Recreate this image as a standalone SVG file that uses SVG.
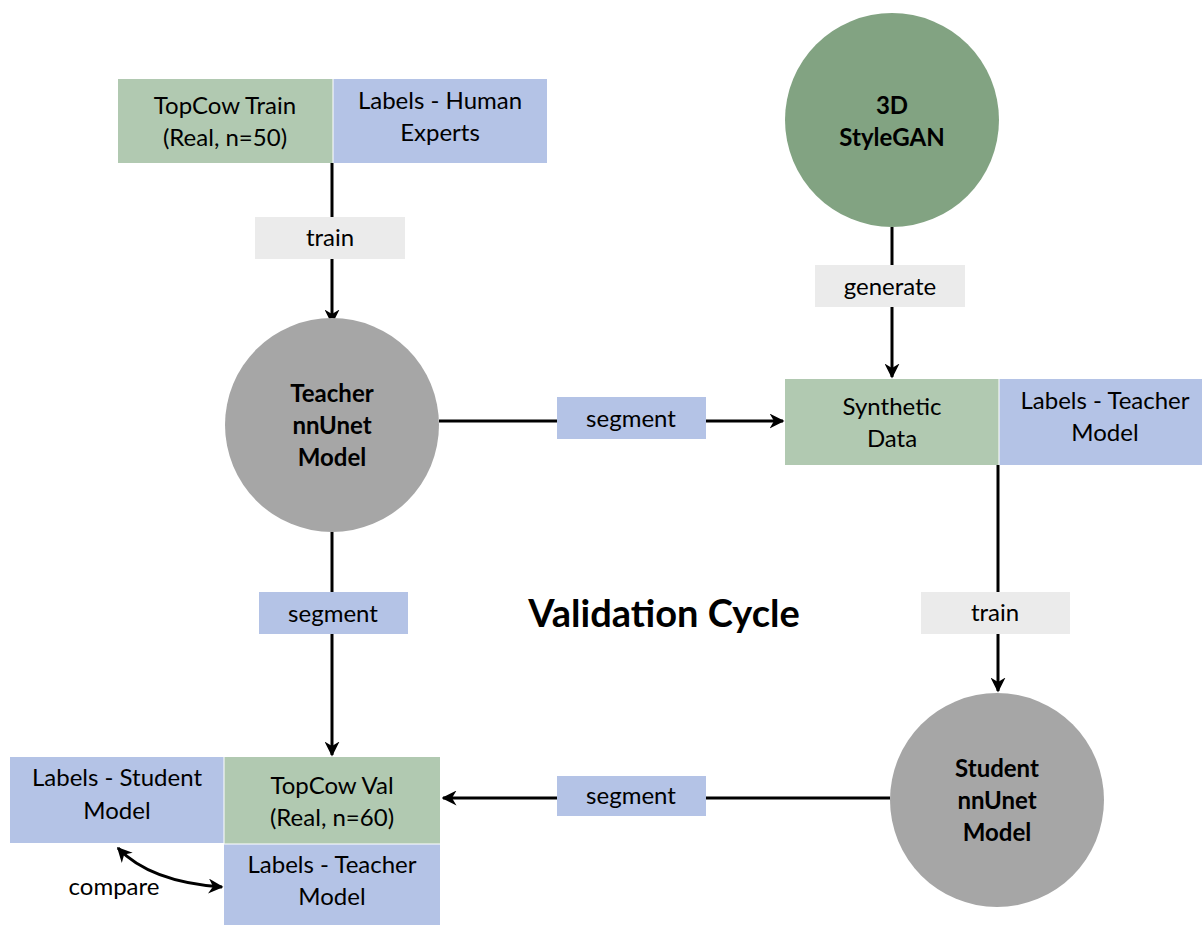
<svg xmlns="http://www.w3.org/2000/svg" width="1202" height="925" viewBox="0 0 1202 925">
  <style>
    .green { fill: #b1c9b1; }
    .blue { fill: #b4c3e6; }
    .tag { fill: #ebebeb; }
    .model { fill: #a6a6a6; }
    .gan { fill: #82a382; }
    .sep { stroke: #ffffff; stroke-width: 1; }
    text { font-family: Lato, "Open Sans", "Liberation Sans", sans-serif; font-size: 24px; fill: #000; text-anchor: middle; }
    .bold { font-weight: bold; }
    .title { font-size: 38px; font-weight: bold; }
    .edge { stroke: #000; stroke-width: 3; fill: none; }
  </style>
  <defs>
    <marker id="arrow" viewBox="0 0 10 10" refX="9" refY="5" markerWidth="5" markerHeight="5" orient="auto-start-reverse" markerUnits="strokeWidth">
      <path d="M0,0 L10,5 L0,10 L3,5 Z" fill="#000"/>
    </marker>
  </defs>
  <rect width="1202" height="925" fill="#ffffff"/>

  <!-- connectors -->
  <g id="connectors">
    <line class="edge" x1="332" y1="163" x2="332" y2="323" marker-end="url(#arrow)"/>
    <line class="edge" x1="892" y1="227" x2="892" y2="377" marker-end="url(#arrow)"/>
    <line class="edge" x1="439" y1="421" x2="783" y2="421" marker-end="url(#arrow)"/>
    <line class="edge" x1="332" y1="532" x2="332" y2="755" marker-end="url(#arrow)"/>
    <line class="edge" x1="998" y1="465" x2="998" y2="691" marker-end="url(#arrow)"/>
    <line class="edge" x1="890" y1="798" x2="443" y2="798" marker-end="url(#arrow)"/>
    <path class="edge" d="M118,848 Q150,882 222,887" marker-start="url(#arrow)" marker-end="url(#arrow)"/>
  </g>

  <!-- edge labels -->
  <g id="label-train-teacher">
    <rect class="tag" x="255" y="217" width="150" height="42"/>
    <text x="330" y="246">train</text>
  </g>
  <g id="label-generate">
    <rect class="tag" x="815" y="265" width="150" height="42"/>
    <text x="890" y="295">generate</text>
  </g>
  <g id="label-segment-synthetic">
    <rect class="blue" x="557" y="397" width="149" height="42"/>
    <text x="631" y="427">segment</text>
  </g>
  <g id="label-segment-val">
    <rect class="blue" x="259" y="592" width="149" height="42"/>
    <text x="333" y="622">segment</text>
  </g>
  <g id="label-train-student">
    <rect class="tag" x="921" y="592" width="149" height="42"/>
    <text x="995" y="621">train</text>
  </g>
  <g id="label-segment-student">
    <rect class="blue" x="557" y="776" width="149" height="40"/>
    <text x="631" y="804">segment</text>
  </g>

  <!-- nodes -->
  <g id="topcow-train">
    <rect class="green" x="118" y="79" width="215" height="84"/>
    <text x="225" y="114">TopCow Train</text>
    <text x="225" y="146">(Real, n=50)</text>
  </g>
  <g id="labels-human">
    <rect class="blue" x="333" y="79" width="214" height="84"/>
    <line class="sep" x1="333" y1="79" x2="333" y2="163"/>
    <text x="440" y="109">Labels - Human</text>
    <text x="440" y="141">Experts</text>
  </g>
  <g id="stylegan">
    <circle class="gan" cx="892" cy="120" r="107"/>
    <text class="bold" x="892" y="114">3D</text>
    <text class="bold" x="892" y="146">StyleGAN</text>
  </g>
  <g id="teacher">
    <circle class="model" cx="332" cy="425" r="107"/>
    <text class="bold" x="332" y="402">Teacher</text>
    <text class="bold" x="332" y="434">nnUnet</text>
    <text class="bold" x="332" y="466">Model</text>
  </g>
  <g id="synthetic-data">
    <rect class="green" x="785" y="379" width="214" height="86"/>
    <text x="892" y="415">Synthetic</text>
    <text x="892" y="447">Data</text>
  </g>
  <g id="labels-teacher-synthetic">
    <rect class="blue" x="999" y="379" width="203" height="86"/>
    <line class="sep" x1="999" y1="379" x2="999" y2="465"/>
    <text x="1105" y="409">Labels - Teacher</text>
    <text x="1105" y="441">Model</text>
  </g>
  <g id="validation-cycle">
    <text class="title" x="664" y="627">Validation Cycle</text>
  </g>
  <g id="student">
    <circle class="model" cx="997" cy="800" r="107"/>
    <text class="bold" x="997" y="777">Student</text>
    <text class="bold" x="997" y="809">nnUnet</text>
    <text class="bold" x="997" y="841">Model</text>
  </g>
  <g id="labels-student">
    <rect class="blue" x="10" y="757" width="214" height="86"/>
    <text x="117" y="786">Labels - Student</text>
    <text x="117" y="819">Model</text>
  </g>
  <g id="topcow-val">
    <rect class="green" x="224" y="757" width="216" height="87"/>
    <line class="sep" x1="224" y1="757" x2="224" y2="844"/>
    <text x="332" y="794">TopCow Val</text>
    <text x="332" y="826">(Real, n=60)</text>
  </g>
  <g id="labels-teacher-val">
    <rect class="blue" x="224" y="844" width="216" height="81"/>
    <line class="sep" x1="224" y1="844" x2="440" y2="844"/>
    <text x="332" y="873">Labels - Teacher</text>
    <text x="332" y="905">Model</text>
  </g>
  <g id="compare-label">
    <text x="114" y="895">compare</text>
  </g>
</svg>
